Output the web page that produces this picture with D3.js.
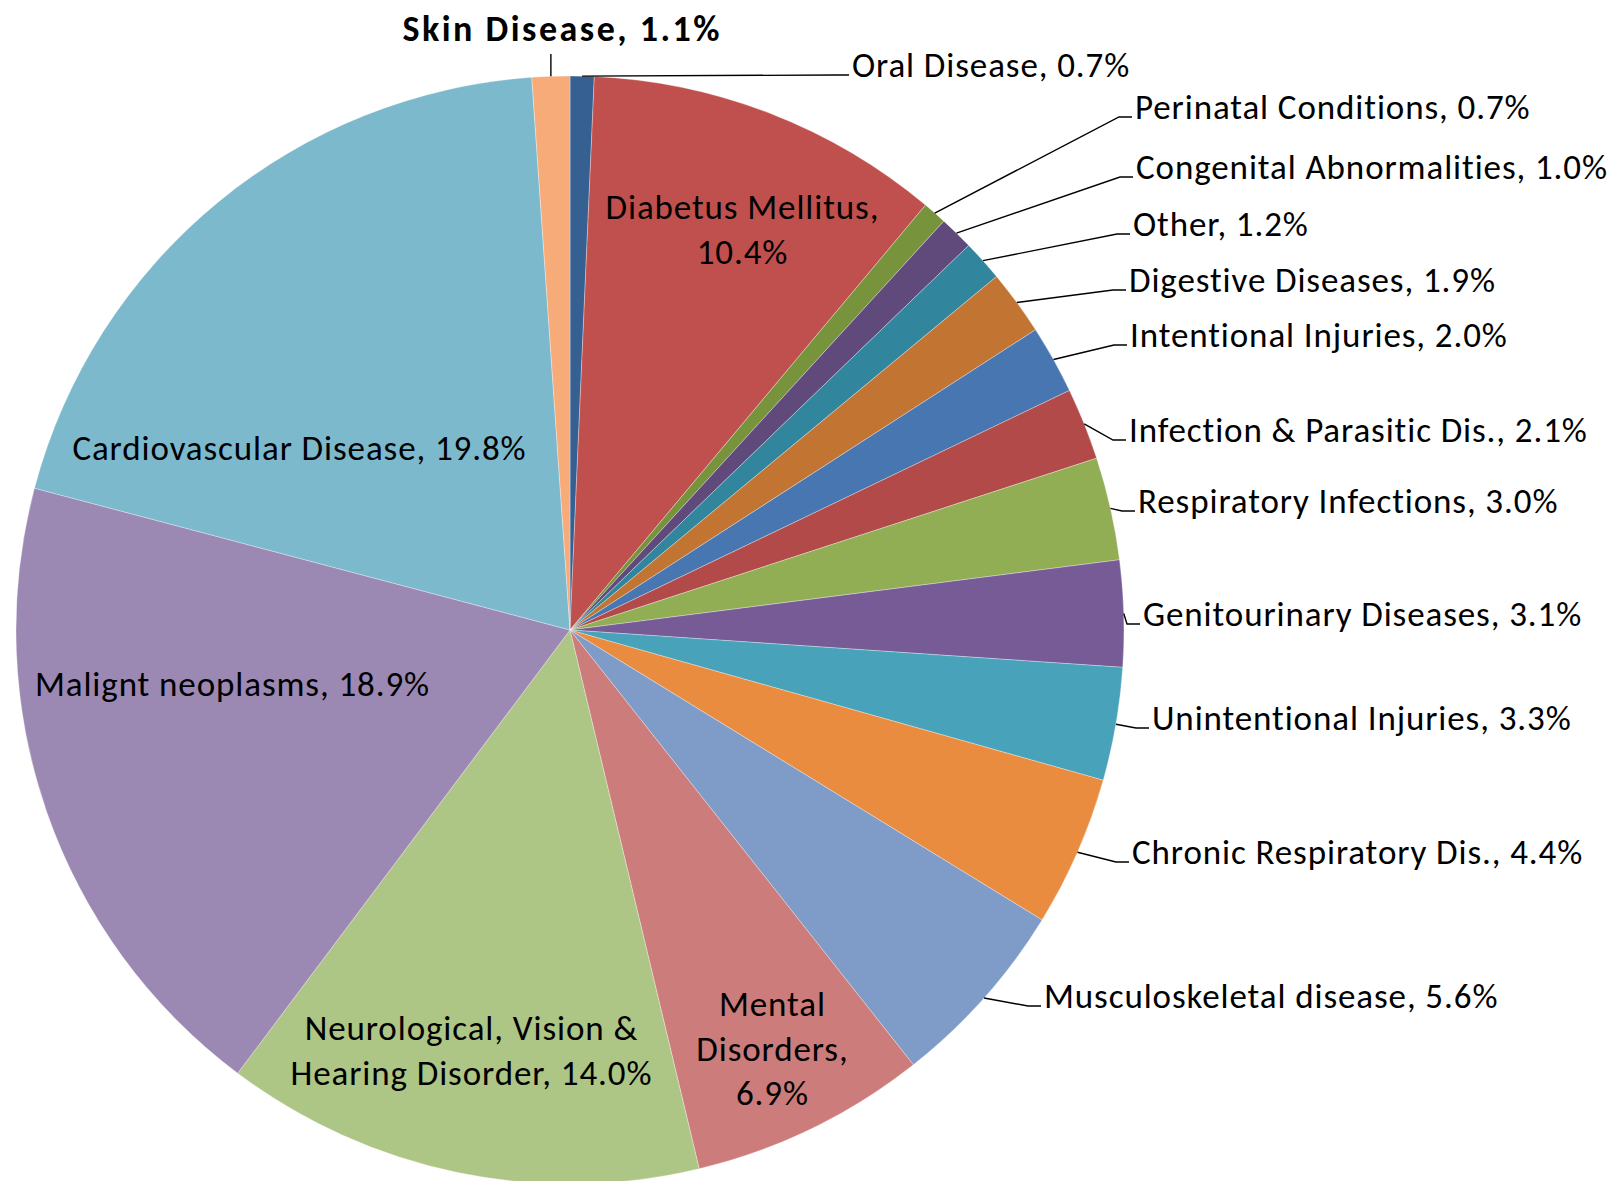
<!DOCTYPE html>
<html>
<head>
<meta charset="utf-8">
<script src="https://cdn.jsdelivr.net/npm/d3@7"></script>
<style>
  html, body { margin: 0; padding: 0; background: #fff; }
  svg { display: block; }
  text { font-family: Carlito, Lato, "Open Sans", sans-serif; fill: #000; }
</style>
</head>
<body>
<svg id="chart" width="1614" height="1181"></svg>
<script>
// Share of disease burden by cause, clockwise from 12 o'clock
const categories = [
  "Oral Disease", "Diabetus Mellitus", "Perinatal Conditions", "Congenital Abnormalities",
  "Other", "Digestive Diseases", "Intentional Injuries", "Infection & Parasitic Dis.",
  "Respiratory Infections", "Genitourinary Diseases", "Unintentional Injuries",
  "Chronic Respiratory Dis.", "Musculoskeletal disease", "Mental Disorders",
  "Neurological, Vision & Hearing Disorder", "Malignt neoplasms",
  "Cardiovascular Disease", "Skin Disease"
];
const values = [0.7, 10.4, 0.7, 1.0, 1.2, 1.9, 2.0, 2.1, 3.0, 3.1, 3.3, 4.4, 5.6, 6.9, 14.0, 18.9, 19.8, 1.1];
const colors = [
  "#376092", "#c0504d", "#77933c", "#604a7b", "#31859c", "#c27432", "#4876b0",
  "#b14a48", "#91ae55", "#775b96", "#48a2b9", "#e98c40", "#7f9cc8", "#cb7c7b",
  "#adc585", "#9b88b3", "#7cb9cd", "#f6ab79"
];

// Label placement: "out" labels sit right of the pie with an elbow leader,
// "top" is centred above the pie, "in" labels are centred inside the slice.
const labelLayout = [
  { kind: "out", x: 852,  y: 77 },
  { kind: "in",  x: 742,  y: 219, lines: ["Diabetus Mellitus,", "{v}"] },
  { kind: "out", x: 1135, y: 119 },
  { kind: "out", x: 1136, y: 179 },
  { kind: "out", x: 1133, y: 236 },
  { kind: "out", x: 1129, y: 292 },
  { kind: "out", x: 1130, y: 347 },
  { kind: "out", x: 1129, y: 442 },
  { kind: "out", x: 1138, y: 513 },
  { kind: "out", x: 1143, y: 626 },
  { kind: "out", x: 1152, y: 730 },
  { kind: "out", x: 1132, y: 864 },
  { kind: "out", x: 1044, y: 1008 },
  { kind: "in",  x: 772,  y: 1016, lines: ["Mental", "Disorders,", "{v}"] },
  { kind: "in",  x: 471,  y: 1040, lines: ["Neurological, Vision &", "Hearing Disorder, {v}"] },
  { kind: "in",  x: 232,  y: 696 },
  { kind: "in",  x: 299,  y: 460 },
  { kind: "top", x: 561,  y: 41 }
];

const cx = 570, cy = 630, radius = 554;
const fontSize = 35, letterSpacing = 0.9, lineGap = 44.5;
const boldSize = 36, boldSpacing = 2.5;
const fmt = v => d3.format(".1f")(v) + "%";

const svg = d3.select("#chart");
const g = svg.append("g").attr("transform", `translate(${cx},${cy})`);

const pie = d3.pie().sort(null).value(d => d.value);
const arc = d3.arc().innerRadius(0).outerRadius(radius);

const data = categories.map((name, i) => ({ name, value: values[i], color: colors[i], layout: labelLayout[i] }));
const arcs = pie(data);

g.selectAll("path.slice")
  .data(arcs)
  .join("path")
  .attr("class", "slice")
  .attr("d", arc)
  .attr("fill", d => d.data.color)
  .attr("stroke", "#ffffff")
  .attr("stroke-opacity", 0.45)
  .attr("stroke-width", 0.7);

// point on the rim at a slice's mid angle, in page coordinates
function rimPoint(d) {
  const a = (d.startAngle + d.endAngle) / 2;
  return [cx + radius * Math.sin(a), cy - radius * Math.cos(a)];
}

const leaders = svg.append("g")
  .attr("fill", "none")
  .attr("stroke", "#000")
  .attr("stroke-width", 1.4);

const labels = svg.append("g")
  .attr("font-size", fontSize)
  .attr("letter-spacing", letterSpacing);

arcs.forEach(d => {
  const L = d.data.layout;
  const val = fmt(d.data.value);
  if (L.kind === "out") {
    const [px, py] = rimPoint(d);
    const ey = L.y - 2;
    leaders.append("polyline")
      .attr("points", [[px, py], [L.x - 16, ey], [L.x - 3, ey]].map(p => p.join(",")).join(" "));
    labels.append("text")
      .attr("x", L.x).attr("y", L.y)
      .text(`${d.data.name}, ${val}`);
  } else if (L.kind === "top") {
    const [px, py] = rimPoint(d);
    leaders.append("line")
      .attr("x1", px).attr("y1", py)
      .attr("x2", px).attr("y2", L.y + 13);
    labels.append("text")
      .attr("x", L.x + boldSpacing / 2).attr("y", L.y)
      .attr("text-anchor", "middle")
      .attr("font-weight", "bold")
      .attr("font-size", boldSize)
      .attr("letter-spacing", boldSpacing)
      .text(`${d.data.name}, ${val}`);
  } else {
    const lines = L.lines ? L.lines.map(s => s.replace("{v}", val)) : [`${d.data.name}, ${val}`];
    const t = labels.append("text")
      .attr("text-anchor", "middle");
    lines.forEach((s, k) => {
      t.append("tspan").attr("x", L.x + letterSpacing / 2).attr("y", L.y + k * lineGap).text(s);
    });
  }
});
</script>
</body>
</html>
